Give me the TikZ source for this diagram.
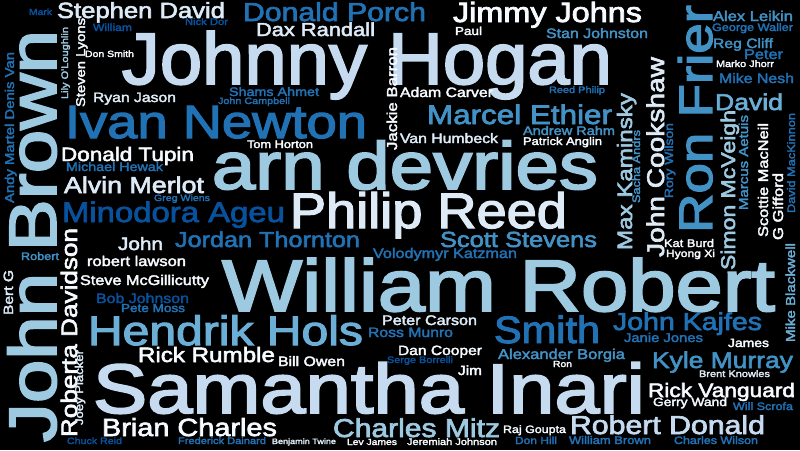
\documentclass[tikz,border=0pt]{standalone}
\usepackage{fontspec}
\newfontfamily\cloudfont{Liberation Sans}[FakeBold=2.5]
\usepackage{graphicx}
\definecolor{cA}{HTML}{F7FBFF}
\definecolor{cB}{HTML}{DEEBF7}
\definecolor{cC}{HTML}{C6DBEF}
\definecolor{cD}{HTML}{9ECAE1}
\definecolor{cE}{HTML}{6BAED6}
\definecolor{cF}{HTML}{4292C6}
\definecolor{cG}{HTML}{2171B5}
\definecolor{cH}{HTML}{08519C}
\tikzset{wd/.style={anchor=base, inner sep=0pt, outer sep=0pt, font=\cloudfont},
         vd/.style={wd, rotate=90}}
\newcommand\vfac{0.86}
\newcommand\cloudword[3]{\resizebox{#1pt}{!}{\scalebox{1}[#2]{#3}}}
\newcommand\hw[6]{\node[wd,text=#5] (#1) at (#2,#3) {\cloudword{#4}{\vfac}{#6}};}
\newcommand\hwx[7]{\node[wd,text=#5] (#1) at (#2,#3) {\cloudword{#4}{#7}{#6}};}
\newcommand\vw[6]{\node[vd,text=#5] (#1) at (#2,#3) {\cloudword{#4}{\vfac}{#6}};}
\begin{document}
\begin{tikzpicture}[x=1pt,y=-1pt]
\fill[black] (0,0) rectangle (800,450);
\useasboundingbox (0,0) rectangle (800,450);
% horizontal words: name, center x, baseline y, width, colour, text
\hwx{w1}{367}{84}{490}{cC}{Johnny Hogan}{0.96}
\hw{w2}{405}{189}{386}{cD}{arn devries}
\hw{w3}{498.5}{311}{553}{cD}{William Robert}
\hw{w4}{369}{413}{552}{cC}{Samantha Inari}
\hw{w5}{216}{138}{302}{cG}{Ivan Newton}
\hwx{w6}{428.5}{228}{277}{cB}{Philip Reed}{0.92}
\hw{w7}{225.5}{345}{275}{cE}{Hendrik Hols}
\hwx{w8}{547}{343}{106}{cG}{Smith}{0.92}
\hw{w9}{519.5}{124}{185}{cF}{Marcel Ethier}
\hw{w10}{141}{18}{168}{cB}{Stephen David}
\hw{w11}{334.5}{21}{183}{cG}{Donald Porch}
\hw{w12}{547.5}{22}{189}{cA}{Jimmy Johns}
\hw{w13}{315.5}{36}{119}{cB}{Dax Randall}
\hw{w14}{468.5}{35}{27}{cA}{Paul}
\hw{w15}{597}{38}{102}{cF}{Stan Johnston}
\hw{w16}{40.5}{15}{23}{cH}{Mark}
\hw{w17}{112.5}{31}{39}{cH}{William}
\hw{w18}{206.5}{25}{43}{cH}{Nick Dor}
\hw{w19}{109.5}{57}{49}{cA}{Don Smith}
\hw{w20}{134.5}{102}{83}{cB}{Ryan Jason}
\hw{w21}{274}{96}{90}{cG}{Shams Ahmet}
\hw{w22}{254}{104}{72}{cG}{John Campbell}
\hw{w23}{446.5}{97}{93}{cA}{Adam Carver}
\hw{w24}{577}{93}{56}{cG}{Reed Philip}
\hw{w25}{449}{143}{98}{cB}{Van Humbeck}
\hw{w26}{569}{135}{92}{cF}{Andrew Rahm}
\hw{w27}{562.5}{145}{79}{cA}{Patrick Anglin}
\hw{w28}{280}{148}{66}{cA}{Tom Horton}
\hw{w29}{127.5}{161}{133}{cA}{Donald Tupin}
\hw{w30}{114.5}{171}{97}{cG}{Michael Hewak}
\hw{w31}{134}{193}{140}{cB}{Alvin Merlot}
\hw{w32}{182}{201}{56}{cG}{Greg Wiens}
\hw{w33}{173.5}{222}{223}{cH}{Minodora Ageu}
\hw{w34}{140.5}{250}{45}{cB}{John}
\hw{w35}{267.5}{247}{185}{cG}{Jordan Thornton}
\hw{w36}{518.5}{247}{157}{cF}{Scott Stevens}
\hw{w37}{445}{258}{144}{cG}{Volodymyr Katzman}
\hw{w38}{40}{260}{38}{cF}{Robert}
\hw{w39}{136.5}{266}{99}{cA}{robert lawson}
\hw{w40}{144.5}{285}{129}{cA}{Steve McGillicutty}
\hw{w41}{142.5}{303}{93}{cH}{Bob Johnson}
\hw{w42}{153}{312}{64}{cG}{Pete Moss}
\hw{w43}{206.5}{362}{137}{cA}{Rick Rumble}
\hw{w44}{311.5}{366}{67}{cA}{Bill Owen}
\hw{w45}{429.5}{325}{95}{cB}{Peter Carson}
\hw{w46}{410.5}{337}{85}{cG}{Ross Munro}
\hw{w47}{440}{355}{84}{cA}{Dan Cooper}
\hw{w48}{420}{363}{66}{cH}{Serge Borrelli}
\hw{w49}{470}{375}{24}{cA}{Jim}
\hw{w50}{561.5}{359}{127}{cF}{Alexander Borgia}
\hw{w51}{562.5}{367}{19}{cA}{Ron}
\hw{w52}{687.5}{330}{149}{cG}{John Kajfes}
\hw{w53}{663.5}{342}{79}{cG}{Janie Jones}
\hw{w54}{748.5}{347}{41}{cA}{James}
\hw{w55}{722.5}{368}{141}{cF}{Kyle Murray}
\hw{w56}{734.5}{377}{71}{cB}{Brent Knowles}
\hw{w57}{721.5}{397}{147}{cA}{Rick Vanguard}
\hw{w58}{690}{406}{74}{cA}{Gerry Wand}
\hw{w59}{763}{410}{60}{cG}{Will Scrofa}
\hw{w60}{667.5}{434}{195}{cC}{Robert Donald}
\hw{w61}{610}{444}{82}{cG}{William Brown}
\hw{w62}{716}{444}{84}{cG}{Charles Wilson}
\hw{w63}{416.5}{437}{167}{cD}{Charles Mitz}
\hw{w64}{534.5}{433}{63}{cA}{Raj Goupta}
\hw{w65}{536}{444}{42}{cG}{Don Hill}
\hw{w66}{452}{445}{90}{cA}{Jeremiah Johnson}
\hw{w67}{372}{445}{50}{cA}{Lev James}
\hw{w68}{304}{444}{64}{cB}{Benjamin Twine}
\hw{w69}{222}{444}{88}{cG}{Frederick Dainard}
\hw{w70}{94.5}{444}{55}{cH}{Chuck Reid}
\hw{w71}{189.5}{436}{175}{cA}{Brian Charles}
\hw{w72}{689}{247}{50}{cA}{Kat Burd}
\hw{w73}{690.5}{257}{49}{cA}{Hyong Xi}
\hw{w74}{753}{21}{80}{cF}{Alex Leikin}
\hw{w75}{752.5}{31}{81}{cG}{George Waller}
\hw{w76}{743}{48}{60}{cF}{Reg Cliff}
\hw{w77}{763.5}{59}{39}{cG}{Peter}
\hw{w78}{745}{67}{58}{cA}{Marko Jhorr}
\hw{w79}{756.5}{83}{75}{cG}{Mike Nesh}
\hw{w80}{749}{110}{68}{cE}{David}
% vertical words: name, baseline x, center y, length, colour, text
\vw{v1}{56}{236}{412}{cD}{John Brown}
\vw{v2}{14}{127.5}{151}{cG}{Andy Martel Denis Van}
\vw{v3}{68}{63}{72}{cD}{Lily O'Loughlin}
\vw{v4}{85}{62.5}{89}{cA}{Steven Lyons}
\vw{v5}{13}{292.5}{45}{cB}{Bert G}
\vw{v6}{77}{332.5}{209}{cA}{Roberta Davidson}
\vw{v7}{83}{387.5}{75}{cB}{Joey Placker}
\vw{v8}{397}{98.5}{103}{cA}{Jackie Barron}
\vw{v9}{664}{157}{200}{cB}{John Cookshaw}
\vw{v10}{632}{171.5}{157}{cD}{Max Kaminsky}
\vw{v11}{640}{166.5}{73}{cF}{Sacha Andrs}
\vw{v12}{673}{160.5}{75}{cG}{Rory Wilson}
\vw{v13}{712}{119}{228}{cF}{Ron Frier}
\vw{v14}{735}{190}{160}{cD}{Simon McVeigh}
\vw{v15}{748}{162.5}{95}{cF}{Marcus Aetuis}
\vw{v16}{768}{180}{114}{cA}{Scottie MacNeil}
\vw{v17}{783}{206.5}{67}{cA}{G Gifford}
\vw{v18}{795}{163}{100}{cG}{David MacKinnon}
\vw{v19}{795}{292.5}{99}{cE}{Mike Blackwell}
\end{tikzpicture}
\end{document}
